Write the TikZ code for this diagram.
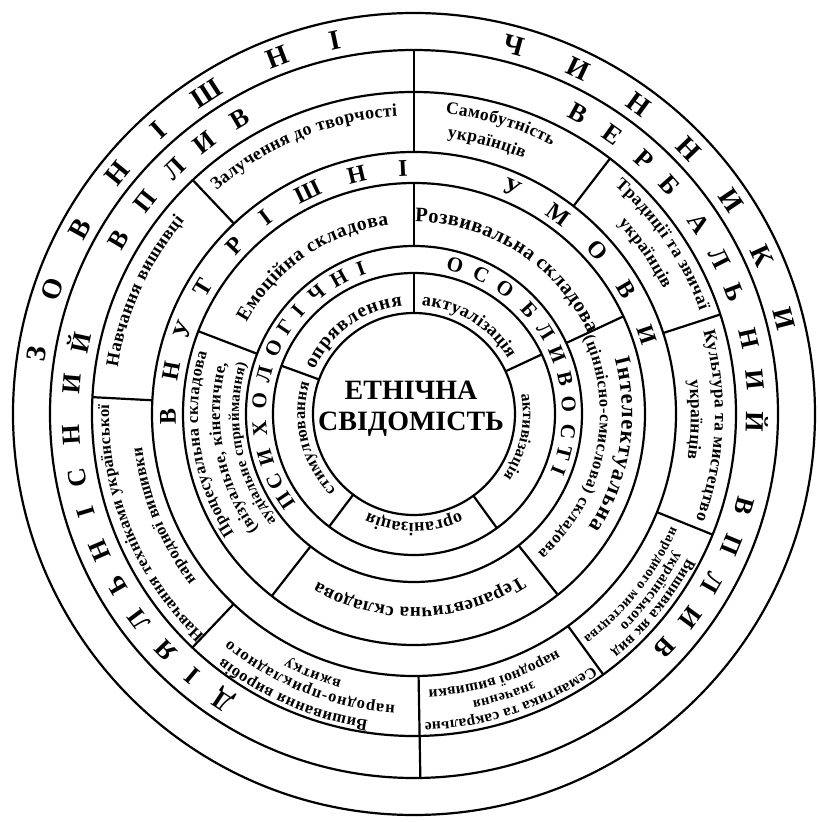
\documentclass[tikz,border=0pt]{standalone}
\usepackage{fontspec}
\setmainfont{Liberation Serif}
\usetikzlibrary{decorations.text}

\begin{document}
\begin{tikzpicture}[
		x=1pt, y=1pt,
		ring/.style={line width=2.2pt},
		divider/.style={line width=2.2pt},
		bigchar/.style={font=\bfseries\fontsize{#1}{#1}\selectfont, inner sep=0pt},
		arcline/.style 2 args={decorate, decoration={text along path, text align=fit to path,
				text={|\bfseries\fontsize{#1}{#1}\selectfont|#2}}}
		]
		
		\useasboundingbox (-414,-408) rectangle (403,414);
		
		% Rings
		\foreach \r in {101,141,168,231,262,322,364,401}
			\draw[ring] (0,0) circle[radius=\r];
		
		% Dividers
		\foreach \a in {90,25,-54,233,160}
			\draw[divider] (\a:101) -- (\a:141);
		\foreach \a in {90,25,-51.5,232,159}
			\draw[divider] (\a:168) -- (\a:231);
		\foreach \a in {133.4,52.5,18,-22,-54,226.5,177}
			\draw[divider] (\a:262) -- (\a:322);
		\foreach \a in {90,-89}
			\draw[divider] (\a:262) -- (\a:364);
		
		% Central node - ethnic consciousness
		\node[font=\bfseries\fontsize{28}{31}\selectfont, align=center] (core) at (-3,5) {ЕТНІЧНА\\СВІДОМІСТЬ};
		
		% Outer ring - external factors
		\foreach \ch/\a [count=\i] in {З/171, О/161, В/151, Н/141, І/132, Ш/123, Н/111, І/102,
				Ч/74.8, И/64.6, Н/54, Н/44, И/34, К/24.5, И/14.5}
			\node[bigchar=28, rotate=\a-90] (zc\i) at (\a:382) {\ch};
		
		% Activity and verbal influence
		\foreach \ch/\a [count=\i] in {Д/236.4, І/229.8, Я/223.7, Л/216.8, Ь/210, Н/203.4, І/196.7, С/190.7,
				Н/183.5, И/175, Й/168, В/149.5, П/141.6, Л/134.3, И/127.7, В/120.5,
				В/61.4, Е/54.6, Р/47.9, Б/41.9, А/33.8, Л/27, Ь/20.8, Н/12.7, И/5.7, Й/-1.3,
				В/-15.6, П/-22.4, Л/-29.5, И/-36.4, В/-43}
			\node[bigchar=26, rotate=\a-90] (vp\i) at (\a:343) {\ch};
		
		% Inner conditions
		\foreach \ch/\a [count=\i] in {В/180.7, Н/169.8, У/160, Т/149, Р/136.7, І/127, Ш/115.6, Н/103.5, І/92.6,
				У/66.6, М/54, О/41.7, В/30.4, И/18.7}
			\node[bigchar=24, rotate=\a-90] (vu\i) at (\a:246) {\ch};
		
		% Psychological features
		\foreach \ch/\a [count=\i] in {П/214, С/206, И/196.5, Х/185.5, О/175, Л/165, О/155, Г/146, І/138.5, Ч/129, Н/119, І/110,
				О/74.6, С/64.3, О/54, Б/42, Л/32, И/22.5, В/13, О/3.5, С/-6.5, Т/-14.5, І/-21.5}
			\node[bigchar=21, rotate=\a-90] (po\i) at (\a:155) {\ch};
		
		% Inner sectors
		\path[arcline={19.5}{опрявлення}] (156:109) arc[start angle=156, end angle=96, radius=109];
		\path[arcline={18}{актуалізація}] (86:109) arc[start angle=86, end angle=30.4, radius=109];
		\path[arcline={16}{активізація}] (10.5:109) arc[start angle=10.5, end angle=-35, radius=109];
		\path[arcline={18}{організація}] (-65:109) arc[start angle=-65, end angle=-115, radius=109];
		\path[arcline={16.5}{стимулювання}] (224.3:109) arc[start angle=224.3, end angle=163.4, radius=109];
		
		% Components
		\path[arcline={19.5}{Емоційна складова}] (151.3:191) arc[start angle=151.3, end angle=97.6, radius=191];
		\path[arcline={20.5}{Розвивальна складова}] (89.7:192) arc[start angle=89.7, end angle=24.9, radius=192];
		\path[arcline={22.5}{Інтелектуальна}] (15.4:208) arc[start angle=15.4, end angle=-32.9, radius=208];
		\path[arcline={16.5}{(ціннісно-смислова) складова}] (24.2:186) arc[start angle=24.2, end angle=-48.2, radius=186];
		\path[arcline={19}{Терапевтична складова}] (-56.7:194) arc[start angle=-56.7, end angle=-119.8, radius=194];
		\path[arcline={16.5}{Процесуальна складова}] (213.7:216) arc[start angle=213.7, end angle=163.4, radius=216];
		\path[arcline={16.5}{(візуальне, кінетичне,}] (216.5:194) arc[start angle=216.5, end angle=164.8, radius=194];
		\path[arcline={15}{аудіальне сприймання)}] (218:175) arc[start angle=218, end angle=163.2, radius=175];
		
		% Outer sectors
		\path[arcline={18}{Залучення до творчості}] (131.5:298) arc[start angle=131.5, end angle=93.2, radius=298];
		\path[arcline={17.5}{Самобутність}] (84:302) arc[start angle=84, end angle=62.8, radius=302];
		\path[arcline={17.5}{українців}] (83.1:278) arc[start angle=83.1, end angle=66.8, radius=278];
		\path[arcline={17.5}{Традиції та звичаї}] (48.7:304) arc[start angle=48.7, end angle=19.9, radius=304];
		\path[arcline={17.5}{українців}] (43:279) arc[start angle=43, end angle=26.6, radius=279];
		\path[arcline={17.5}{Культура та мистецтво}] (16:301) arc[start angle=16, end angle=-20.5, radius=301];
		\path[arcline={17.5}{українців}] (6.9:277) arc[start angle=6.9, end angle=-9.3, radius=277];
		\path[arcline={15.5}{Вишивка як вид}] (-27.8:309) arc[start angle=-27.8, end angle=-50.3, radius=309];
		\path[arcline={15}{українського}] (-27.7:295) arc[start angle=-27.7, end angle=-45.8, radius=295];
		\path[arcline={14}{народного мистецтва}] (-23.7:281) arc[start angle=-23.7, end angle=-52.9, radius=281];
		\path[arcline={15.5}{Семантика та сакральне}] (-54.7:309) arc[start angle=-54.7, end angle=-88, radius=309];
		\path[arcline={14.5}{значення}] (-66:293) arc[start angle=-66, end angle=-78.5, radius=293];
		\path[arcline={15.5}{народної вишивки}] (-58.8:276) arc[start angle=-58.8, end angle=-87, radius=276];
		\path[arcline={16.5}{Вишивання виробів}] (261.5:310) arc[start angle=261.5, end angle=232, radius=310];
		\path[arcline={16.5}{народно-прикладного}] (266.3:292) arc[start angle=266.3, end angle=230.8, radius=292];
		\path[arcline={16}{вжитку}] (254.8:276) arc[start angle=254.8, end angle=242.6, radius=276];
		\path[arcline={16.5}{Навчання техніками української}] (226.6:305) arc[start angle=226.6, end angle=178.3, radius=305];
		\path[arcline={16.5}{народної вишивки}] (217.3:274) arc[start angle=217.3, end angle=187, radius=274];
		\path[arcline={18}{Навчання вишивці}] (171:300) arc[start angle=171, end angle=140, radius=300];
		
	\end{tikzpicture}
\end{document}
